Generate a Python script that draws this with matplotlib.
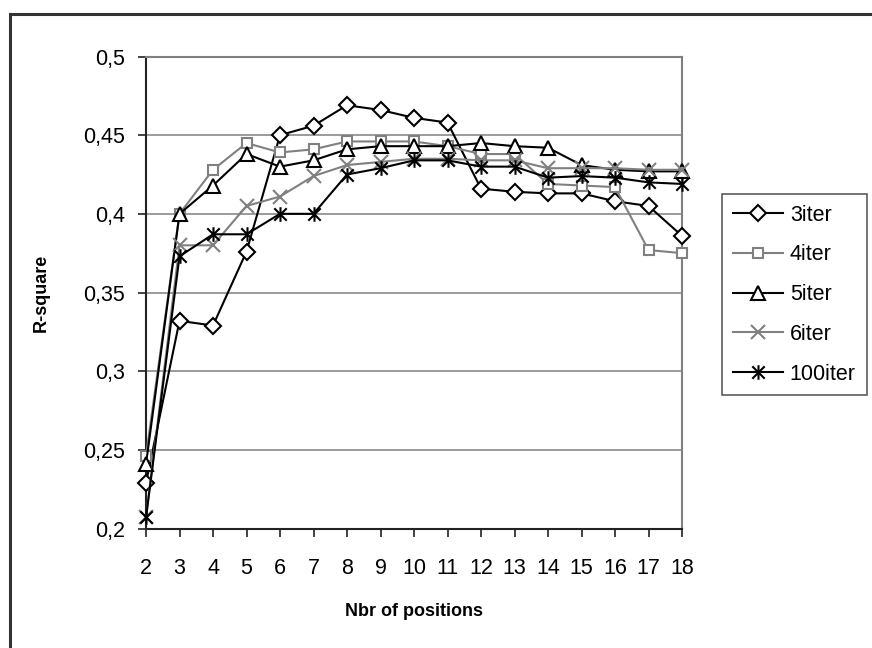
import matplotlib
matplotlib.use("Agg")
import matplotlib.pyplot as plt
from matplotlib.path import Path
from matplotlib.patches import Rectangle
from matplotlib.ticker import FuncFormatter

plt.rcParams['font.family'] = ['Liberation Sans', 'DejaVu Sans']

# data
positions = list(range(2, 19))
r2_3iter = [0.229, 0.332, 0.329, 0.376, 0.450, 0.456, 0.469, 0.466, 0.461, 0.458,
            0.416, 0.414, 0.413, 0.413, 0.408, 0.405, 0.386]
r2_4iter = [0.246, 0.400, 0.428, 0.445, 0.439, 0.441, 0.446, 0.446, 0.446, 0.443,
            0.438, 0.438, 0.419, 0.418, 0.417, 0.377, 0.375]
r2_5iter = [0.241, 0.400, 0.418, 0.438, 0.430, 0.434, 0.441, 0.443, 0.443, 0.443,
            0.445, 0.443, 0.442, 0.431, 0.428, 0.427, 0.427]
r2_6iter = [0.207, 0.380, 0.380, 0.405, 0.411, 0.424, 0.431, 0.433, 0.435, 0.435,
            0.434, 0.434, 0.429, 0.429, 0.429, 0.428, 0.428]
r2_100iter = [0.207, 0.373, 0.387, 0.387, 0.400, 0.400, 0.425, 0.429, 0.434, 0.434,
              0.430, 0.430, 0.423, 0.424, 0.423, 0.420, 0.419]
labels = ['3iter', '4iter', '5iter', '6iter', '100iter']

GRAY = '#808080'

# six-armed asterisk like the spreadsheet "star" marker
star = Path([(0, -1), (0, 1), (-0.85, -0.85), (0.85, 0.85), (-0.85, 0.85), (0.85, -0.85)],
            [Path.MOVETO, Path.LINETO, Path.MOVETO, Path.LINETO, Path.MOVETO, Path.LINETO])

styles = [
    dict(color='black', marker='D', ms=8, mfc='white', mec='black'),
    dict(color=GRAY, marker='s', ms=7, mfc='white', mec=GRAY),
    dict(color='black', marker='^', ms=9.5, mfc='white', mec='black'),
    dict(color=GRAY, marker='x', ms=9.5, mec=GRAY),
    dict(color='black', marker=star, ms=10.5, mfc='none', mec='black'),
]
series = [r2_3iter, r2_4iter, r2_5iter, r2_6iter, r2_100iter]

fig = plt.figure(figsize=(8.72, 6.48), dpi=100)
ax = fig.add_axes([146 / 872, 1 - 528.5 / 648, (682 - 146) / 872, (528.5 - 56.5) / 648])

for vals, lab, st in zip(series, labels, styles):
    ax.plot(positions, vals, label=lab, lw=1.5, mew=1.5, zorder=3, clip_on=False, **st)

ax.set_xlim(2, 18)
ax.set_ylim(0.2, 0.5)
ax.set_xticks(positions)
ax.set_yticks([0.2, 0.25, 0.3, 0.35, 0.4, 0.45, 0.5])
ax.yaxis.set_major_formatter(FuncFormatter(lambda v, p: ('%g' % round(v, 2)).replace('.', ',')))
ax.grid(axis='y', color=GRAY, lw=1.1)
ax.set_axisbelow(True)

for side in ['top', 'right']:
    ax.spines[side].set_color(GRAY)
    ax.spines[side].set_linewidth(1.5)
for side in ['left', 'bottom']:
    ax.spines[side].set_color('#222222')
    ax.spines[side].set_linewidth(1.5)

ax.tick_params(axis='both', direction='out', length=6, width=1.2, color='#222222',
               labelsize=15.5)
ax.tick_params(axis='y', pad=9)
ax.tick_params(axis='x', pad=15)
ax.set_xlabel('Nbr of positions', fontsize=13, fontweight='bold')
ax.set_ylabel('R-square', fontsize=13, fontweight='bold')
ax.xaxis.set_label_coords(0.5, (528.5 - 603) / 472)
ax.yaxis.set_label_coords((50 - 146) / 536, 0.5)

leg = fig.legend(loc='upper left', bbox_to_anchor=(722 / 872, 1 - 194 / 648),
                 fontsize=15.5, frameon=True, fancybox=False, handlelength=2.35,
                 handletextpad=0.3, labelspacing=0.87, borderpad=0.5, borderaxespad=0)
leg.get_frame().set_edgecolor('#333333')
leg.get_frame().set_linewidth(1.2)

# outer chart border
fig.patches.append(Rectangle((10 / 872, -0.05), 1.1, 1 - 14 / 648 + 0.05,
                             transform=fig.transFigure, fill=False,
                             edgecolor='#333333', lw=2.2))

fig.savefig('out.png', dpi=100)
